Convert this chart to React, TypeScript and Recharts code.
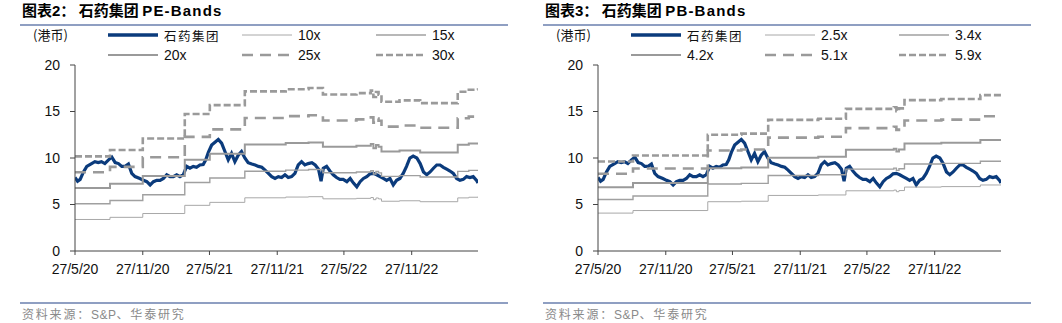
import React from 'react';
import { LineChart, Line, XAxis, YAxis } from 'recharts';

// 石药集团 share price (HKD)
const priceDates = [
    '2020-05-27', '2020-06-03', '2020-06-10', '2020-06-19', '2020-06-28', '2020-07-11', '2020-07-20', '2020-07-29',
    '2020-08-07', '2020-08-16', '2020-08-26', '2020-09-04', '2020-09-13', '2020-09-22', '2020-10-01', '2020-10-10',
    '2020-10-19', '2020-10-28', '2020-11-06', '2020-11-19', '2020-11-29', '2020-12-08', '2020-12-17', '2020-12-26',
    '2021-01-04', '2021-01-13', '2021-01-22', '2021-01-31', '2021-02-09', '2021-02-18', '2021-02-27', '2021-03-08',
    '2021-03-17', '2021-03-26', '2021-04-04', '2021-04-13', '2021-04-22', '2021-05-01', '2021-05-10', '2021-05-17',
    '2021-05-24', '2021-06-02', '2021-06-11', '2021-06-20', '2021-06-29', '2021-07-08', '2021-07-17', '2021-07-26',
    '2021-08-04', '2021-08-13', '2021-08-22', '2021-08-31', '2021-09-09', '2021-09-19', '2021-09-28', '2021-10-07',
    '2021-10-16', '2021-10-25', '2021-11-03', '2021-11-12', '2021-11-21', '2021-11-30', '2021-12-09', '2021-12-18',
    '2021-12-27', '2022-01-05', '2022-01-14', '2022-01-23', '2022-02-01', '2022-02-10', '2022-02-19', '2022-03-01',
    '2022-03-10', '2022-03-19', '2022-03-26', '2022-04-01', '2022-04-10', '2022-04-19', '2022-04-28', '2022-05-07',
    '2022-05-16', '2022-05-25', '2022-06-04', '2022-06-13', '2022-06-22', '2022-07-01', '2022-07-10', '2022-07-19',
    '2022-07-28', '2022-08-06', '2022-08-15', '2022-08-24', '2022-09-02', '2022-09-11', '2022-09-20', '2022-09-29',
    '2022-10-08', '2022-10-17', '2022-10-26', '2022-11-04', '2022-11-13', '2022-11-22', '2022-12-01', '2022-12-11',
    '2022-12-20', '2022-12-29', '2023-01-07', '2023-01-16', '2023-01-25', '2023-02-03', '2023-02-12', '2023-02-21',
    '2023-03-02', '2023-03-11', '2023-03-20', '2023-03-29', '2023-04-07', '2023-04-16', '2023-04-25', '2023-05-04',
    '2023-05-13', '2023-05-22', '2023-05-26',
];
const priceValues = [
    7.9, 7.5, 7.7, 8.5, 9.1, 9.4, 9.6, 9.5,
    9.6, 9.4, 9.8, 10.1, 9.5, 9.4, 9.1, 9.1,
    9.35, 8.35, 8.0, 7.8, 7.6, 7.45, 7.1, 7.45,
    7.6, 7.6, 7.8, 8.2, 8.0, 8.0, 8.2, 8.0,
    8.2, 9.1, 8.9, 9.1, 9.0, 9.25, 9.3, 9.8,
    10.6, 11.4, 11.7, 12.0, 11.6, 10.7, 9.8, 10.5,
    9.6, 10.3, 10.7, 10.0, 9.5, 9.35, 9.25, 9.1,
    9.0, 8.7, 8.35, 8.0, 7.8, 8.0, 7.9, 8.2,
    7.9, 8.0, 8.35, 9.25, 9.6, 9.25, 9.4, 9.5,
    9.25, 8.8, 7.5, 8.9, 9.1, 8.6, 8.2, 7.9,
    7.7, 7.7, 7.45, 7.8, 7.3, 6.9, 7.45, 7.8,
    8.0, 8.3, 8.35, 8.2, 8.0, 7.8, 7.6, 7.8,
    7.1, 7.6, 7.8, 8.35, 9.1, 10.0, 10.2, 10.0,
    9.4, 8.5, 8.2, 8.5, 8.9, 9.25, 9.25, 9.0,
    8.8, 8.6, 8.35, 7.8, 7.6, 7.7, 8.0, 7.9,
    8.0, 7.6, 7.3,
];

// trailing EPS (HKD) behind the PE bands
const epsDates = [
    '2020-05-27', '2020-08-30', '2020-11-27', '2021-03-21', '2021-05-28', '2021-08-31', '2021-12-20', '2022-02-20',
    '2022-03-31', '2022-06-30', '2022-08-08', '2022-08-15', '2022-08-22', '2022-08-29', '2022-09-06', '2022-10-25',
    '2022-12-20', '2023-04-01', '2023-05-01', '2023-05-26',
];
const epsValues = [
    0.339, 0.362, 0.403, 0.491, 0.523, 0.572, 0.58, 0.584,
    0.561, 0.566, 0.575, 0.552, 0.57, 0.56, 0.535, 0.54,
    0.53, 0.571, 0.578, 0.583,
];
const peMultiples = [10, 15, 20, 25, 30];

// book value per share (HKD) behind the PB bands
const bpsDates = [
    '2020-05-27', '2020-08-30', '2021-03-21', '2021-06-20', '2021-09-01', '2022-01-15', '2022-03-31', '2022-08-08',
    '2022-08-15', '2022-08-22', '2022-09-06', '2022-12-15', '2023-03-31', '2023-05-26',
];
const bpsValues = [
    1.63, 1.74, 2.12, 2.14, 2.39, 2.41, 2.59, 2.62,
    2.55, 2.6, 2.75, 2.77, 2.84, 2.85,
];
const pbMultiples = [2.5, 3.4, 4.2, 5.1, 5.9];

const xTicks = ['2020-05-27', '2020-11-27', '2021-05-27', '2021-11-27', '2022-05-27', '2022-11-27'];
const yTicks = [0, 5, 10, 15, 20];
const startDate = '2020-05-27';
const endDate = '2023-05-26';

const BLUE = '#0b3b7c';
const bandStyles = [
    { stroke: '#a8a8a8', width: 1, dash: undefined },
    { stroke: '#a0a0a0', width: 1.4, dash: undefined },
    { stroke: '#9a9a9a', width: 2, dash: undefined },
    { stroke: '#9a9a9a', width: 2.6, dash: '11 7' },
    { stroke: '#9a9a9a', width: 2.6, dash: '7 3' },
];

const LATIN = '"Liberation Sans", Arial, sans-serif';
const CJK = '"Noto Sans CJK SC", sans-serif';

const fmtDate = (t: number) => {
    const d = new Date(t);
    return `${d.getUTCDate()}/${d.getUTCMonth() + 1}/${String(d.getUTCFullYear()).slice(2)}`;
};

const priceData = priceDates.map((d, i) => ({ t: Date.parse(d), v: priceValues[i] }));

interface PanelProps {
    left: number;
    num: string;
    name: string;
    baseDates: string[];
    baseValues: number[];
    multiples: number[];
}

const LegendSwatch = ({ i }: { i: number }) => {
    if (i < 0) {
        return (
            <svg width={50} height={6}>
                <line x1={0} y1={3} x2={50} y2={3} stroke={BLUE} strokeWidth={3.5} />
            </svg>
        );
    }
    const s = bandStyles[i];
    return (
        <svg width={50} height={6}>
            <line x1={0} y1={3} x2={50} y2={3} stroke={s.stroke} strokeWidth={s.width} strokeDasharray={s.dash} />
        </svg>
    );
};

const Panel: React.FC<PanelProps> = ({ left, num, name, baseDates, baseValues, multiples }) => {
    const bands = multiples.map((m) =>
        baseDates.map((d, i) => ({ t: Date.parse(d), v: +(baseValues[i] * m).toFixed(3) }))
    );
    const legendItems = [
        { label: '石药集团', i: -1 },
        ...multiples.map((m, i) => ({ label: `${m}x`, i })),
    ];
    const cols = [108, 242, 376];

    return (
        <div style={{ position: 'absolute', left, top: 0, width: 523, height: 323 }}>
            <div style={{ position: 'absolute', left: 22, top: 0, fontWeight: 'bold', fontSize: 15, whiteSpace: 'nowrap', lineHeight: '19px' }}>
                <span style={{ fontFamily: CJK }}>图表</span>
                <span style={{ fontFamily: LATIN }}>{num}</span>
                <span style={{ fontFamily: CJK }}>：&nbsp;石药集团 </span>
                <span style={{ fontFamily: LATIN, letterSpacing: 1.2 }}>{name}</span>
            </div>
            <div style={{ position: 'absolute', left: 20, top: 24, width: 488, height: 1.5, background: '#8f9fc2' }} />

            <div style={{ position: 'absolute', left: 33, top: 27, fontSize: 13, fontFamily: CJK, color: '#111', lineHeight: '16px' }}>
                (港币)
            </div>
            {legendItems.map((it, k) => (
                <div
                    key={it.label}
                    style={{
                        position: 'absolute',
                        left: cols[k % 3],
                        top: k < 3 ? 27 : 47,
                        display: 'flex',
                        alignItems: 'center',
                        height: 16,
                        whiteSpace: 'nowrap',
                    }}
                >
                    <LegendSwatch i={it.i} />
                    <span
                        style={{
                            marginLeft: 6,
                            fontSize: it.i < 0 ? 12.5 : 14,
                            letterSpacing: it.i < 0 ? 1.5 : 0,
                            fontFamily: it.i < 0 ? CJK : LATIN,
                            color: '#111',
                        }}
                    >
                        {it.label}
                    </span>
                </div>
            ))}

            <div style={{ position: 'absolute', left: 0, top: 0 }}>
                <LineChart width={510} height={290} margin={{ top: 65, right: 32, bottom: 9, left: 35 }}>
                    <XAxis
                        dataKey="t"
                        type="number"
                        domain={[Date.parse(startDate), Date.parse(endDate)]}
                        ticks={xTicks.map((d) => Date.parse(d))}
                        tickFormatter={fmtDate}
                        allowDataOverflow
                        height={30}
                        tickSize={4}
                        tickMargin={9}
                        stroke="#444"
                        tick={{ fill: '#111', fontSize: 14, fontFamily: LATIN }}
                    />
                    <YAxis
                        type="number"
                        domain={[0, 20]}
                        ticks={yTicks}
                        width={40}
                        tickSize={5}
                        tickMargin={10}
                        stroke="#444"
                        tick={{ fill: '#111', fontSize: 14, fontFamily: LATIN }}
                    />
                    <Line
                        data={priceData}
                        dataKey="v"
                        type="linear"
                        stroke={BLUE}
                        strokeWidth={3.2}
                        dot={false}
                        activeDot={false}
                        isAnimationActive={false}
                    />
                    {bands.map((b, i) => (
                        <Line
                            key={i}
                            data={b}
                            dataKey="v"
                            type="stepAfter"
                            stroke={bandStyles[i].stroke}
                            strokeWidth={bandStyles[i].width}
                            strokeDasharray={bandStyles[i].dash}
                            dot={false}
                            activeDot={false}
                            isAnimationActive={false}
                        />
                    ))}
                </LineChart>
            </div>

            <div style={{ position: 'absolute', left: 20, top: 302, width: 488, height: 1.5, background: '#8f9fc2' }} />
            <div style={{ position: 'absolute', left: 22, top: 306, fontSize: 12, fontFamily: CJK, color: '#8a8a8a', letterSpacing: 1.8, whiteSpace: 'nowrap', lineHeight: '15px' }}>
                资料来源：<span style={{ fontFamily: LATIN, letterSpacing: 0.5 }}>S&amp;P</span>、华泰研究
            </div>
        </div>
    );
};

export default function App() {
    return (
        <div style={{ position: 'absolute', left: 0, top: 0, width: 1062, height: 323, background: '#fff', overflow: 'hidden' }}>
            <Panel left={0} num="2" name="PE-Bands" baseDates={epsDates} baseValues={epsValues} multiples={peMultiples} />
            <Panel left={523} num="3" name="PB-Bands" baseDates={bpsDates} baseValues={bpsValues} multiples={pbMultiples} />
        </div>
    );
}
